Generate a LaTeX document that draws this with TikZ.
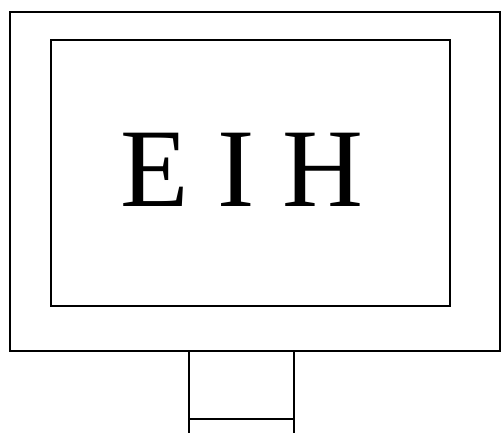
\documentclass[tikz,border=0pt]{standalone}
\usepackage{fontspec}
\setmainfont{Liberation Serif}
\begin{document}
\begin{tikzpicture}[x=1pt,y=-1pt,
  frame/.style={draw=black,line width=2.2pt},
  label/.style={font=\fontsize{112}{120}\selectfont,inner sep=0pt,anchor=base}]
\useasboundingbox (0,0) rectangle (501,432);
\draw[frame] (10,12) rectangle (500,351);
\draw[frame] (51,40) rectangle (450,306);
\node[label] (t) at (242,206) {E I H};
\coordinate (sl) at (189,351);
\coordinate (sr) at (294,351);
\coordinate (bl) at (189,433);
\coordinate (br) at (294,433);
\draw[frame] (sl) -- (bl);
\draw[frame] (sr) -- (br);
\draw[draw=black,line width=1.8pt] (189,419) -- (294,419);
\end{tikzpicture}
\end{document}
